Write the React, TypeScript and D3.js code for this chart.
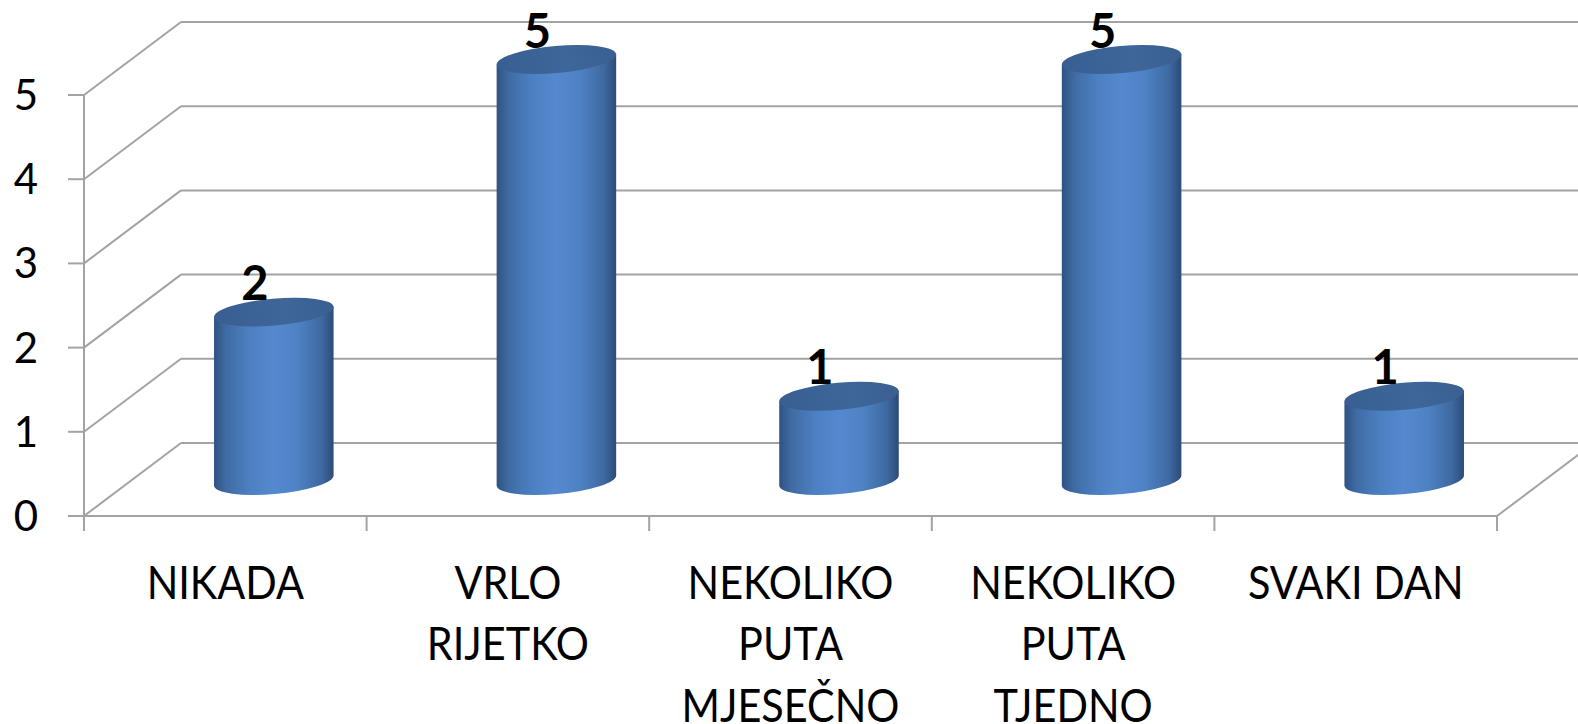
import React from "react";
import * as d3 from "d3";

const categories = ["NIKADA", "VRLO RIJETKO", "NEKOLIKO PUTA MJESEČNO", "NEKOLIKO PUTA TJEDNO", "SVAKI DAN"];
const categoryLines = [["NIKADA"], ["VRLO", "RIJETKO"], ["NEKOLIKO", "PUTA", "MJESEČNO"], ["NEKOLIKO", "PUTA", "TJEDNO"], ["SVAKI DAN"]];
const values = [2, 5, 1, 5, 1];
const yTicks = [0, 1, 2, 3, 4, 5];

const W = 1578;
const H = 724;
const DX = 97;
const DY = -73;

export default function App() {
  const x = d3.scaleBand<string>().domain(categories).range([84, 1497]).padding(0);
  const y = d3.scaleLinear().domain([0, 5]).range([516, 95]);
  const grid = "#a3a3a3";
  const rx = 60;
  const ry = 13.5;
  const rot = -5;
  const th = (rot * Math.PI) / 180;
  const ex = rx * Math.cos(th);
  const ey = rx * Math.sin(th);

  return (
    <svg width={W} height={H} style={{ position: "absolute", left: 0, top: 0 }} fontFamily="Lato, 'Open Sans', sans-serif">
      <defs>
        <linearGradient id="body" x1="0" x2="1" y1="0" y2="0">
          <stop offset="0%" stopColor="#2f5283" />
          <stop offset="10%" stopColor="#3f6ba3" />
          <stop offset="30%" stopColor="#4c80c2" />
          <stop offset="50%" stopColor="#5489d0" />
          <stop offset="70%" stopColor="#4d82c4" />
          <stop offset="90%" stopColor="#3e69a0" />
          <stop offset="100%" stopColor="#2c4b78" />
        </linearGradient>
        <linearGradient id="top" x1="0" x2="1" y1="0" y2="0">
          <stop offset="0%" stopColor="#395f92" />
          <stop offset="60%" stopColor="#3e6699" />
          <stop offset="100%" stopColor="#3a6090" />
        </linearGradient>
        <clipPath id="clip">
          <rect x={0} y={0} width={W} height={H} />
        </clipPath>
      </defs>
      <g clipPath="url(#clip)">
        {/* back wall gridlines */}
        {yTicks.map((t) => (
          <g key={"g" + t}>
            <line x1={84} y1={y(t)} x2={84 + DX} y2={y(t) + DY} stroke={grid} strokeWidth={2} />
            <line x1={84 + DX} y1={y(t) + DY} x2={1497 + DX} y2={y(t) + DY} stroke={grid} strokeWidth={2} />
          </g>
        ))}
        {/* floor */}
        <line x1={1497} y1={y(0)} x2={1497 + DX} y2={y(0) + DY} stroke={grid} strokeWidth={2} />
        <line x1={84} y1={y(0)} x2={1497} y2={y(0)} stroke={grid} strokeWidth={2} />
        {/* y axis */}
        <line x1={84} y1={y(5)} x2={84} y2={y(0)} stroke={grid} strokeWidth={2} />
        {yTicks.map((t) => (
          <g key={"t" + t}>
            <line x1={68} y1={y(t)} x2={84} y2={y(t)} stroke={grid} strokeWidth={2} />
            <text x={38} y={y(t) + 15} textAnchor="end" fontSize={42} fill="#000">
              {t}
            </text>
          </g>
        ))}
        {/* category ticks */}
        {[...categories.map((c) => x(c)!), 1497].map((v, i) => (
          <line key={"c" + i} x1={v} y1={y(0)} x2={v} y2={y(0) + 15} stroke={grid} strokeWidth={2} />
        ))}
        {/* cylinders */}
        {categories.map((c, i) => {
          const cx = x(c)! + x.bandwidth() / 2 + DX / 2;
          const yb = y(0) + DY / 2 + 1;
          const yt = y(values[i]) + DY / 2 + 1;
          const d = `M${cx - ex},${yt - ey} L${cx - ex},${yb - ey} A${rx},${ry} ${rot} 0 0 ${cx + ex},${yb + ey} L${cx + ex},${yt + ey} Z`;
          return (
            <g key={"b" + c}>
              <path d={d} fill="url(#body)" />
              <ellipse cx={cx} cy={yt} rx={rx} ry={ry} transform={`rotate(${rot},${cx},${yt})`} fill="url(#top)" />
              <text x={cx - 19} y={yt - 12} textAnchor="middle" fontSize={47} fontWeight="bold" fill="#000">
                {values[i]}
              </text>
            </g>
          );
        })}
        {/* category labels */}
        {categories.map((c, i) => {
          const cx = x(c)! + x.bandwidth() / 2;
          return (
            <g key={"l" + c} transform={`translate(${cx},0) scale(0.9,1)`}>
              {categoryLines[i].map((ln, j) => (
                <text key={j} x={0} y={599 + j * 61.5} textAnchor="middle" fontSize={46} fill="#000">
                  {ln}
                </text>
              ))}
            </g>
          );
        })}
      </g>
    </svg>
  );
}
